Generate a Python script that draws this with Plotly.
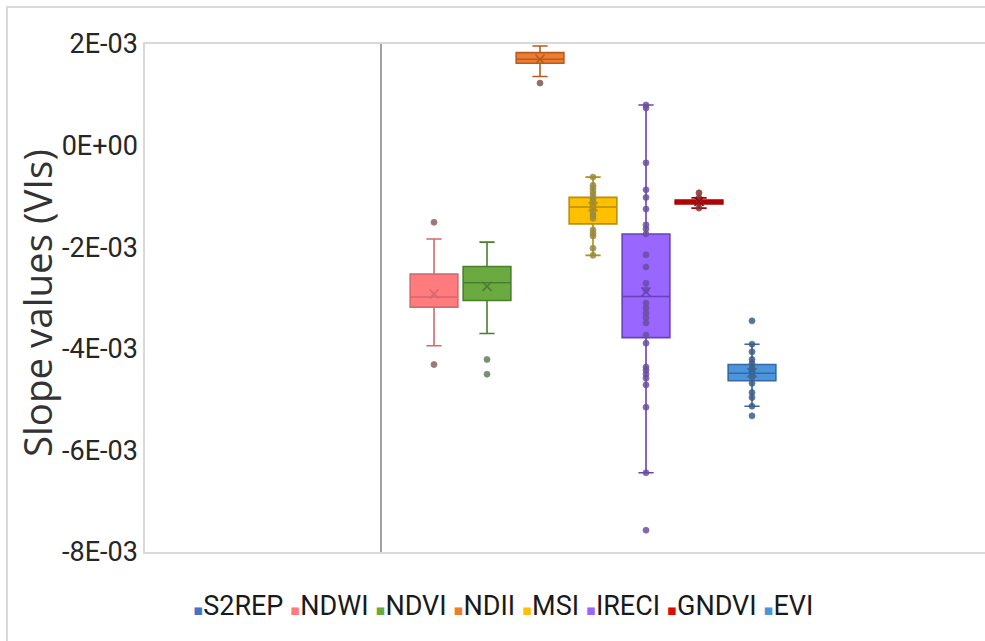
import plotly.graph_objects as go

# ---- data ----
names = ["S2REP", "NDWI", "NDVI", "NDII", "MSI", "IRECI", "GNDVI", "EVI"]

q1 = [0.006, -0.00318, -0.00305, 0.00162, -0.00154, -0.00378, -0.00115, -0.00463]
median = [0.012, -0.00298, -0.00270, 0.00170, -0.00121, -0.00297, -0.00111, -0.00448]
q3 = [0.020, -0.00253, -0.00238, 0.00183, -0.00102, -0.00174, -0.00107, -0.00431]
lowerfence = [-0.012, -0.00394, -0.00370, 0.00136, -0.00216, -0.00644, -0.00123, -0.00513]
upperfence = [0.030, -0.00184, -0.00190, 0.00196, -0.00062, 0.00080, -0.00103, -0.00391]
means = [0.013, -0.00292, -0.00277, 0.00170, -0.00120, -0.00288, -0.00110, -0.00447]

points_s2rep = []
points_ndwi = [-0.00151, -0.00431]
points_ndvi = [-0.00421, -0.00450]
points_ndii = [0.00123]
points_msi = [-0.00062, -0.00078, -0.00084, -0.00091, -0.00097, -0.00104, -0.00110,
              -0.00117, -0.00123, -0.00130, -0.00137, -0.00143, -0.00166, -0.00173,
              -0.00178, -0.00202, -0.00216]
points_ireci = [0.00080, 0.00074, -0.00034, -0.00087, -0.00102, -0.00125, -0.00156,
                -0.00164, -0.00174, -0.00215, -0.00239, -0.00271, -0.00284, -0.00310,
                -0.00320, -0.00330, -0.00339, -0.00349, -0.00373, -0.00389, -0.00436,
                -0.00442, -0.00450, -0.00458, -0.00471, -0.00515, -0.00644, -0.00757]
points_gndvi = [-0.00093, -0.00103, -0.00108, -0.00113, -0.00123]
points_evi = [-0.00345, -0.00391, -0.00406, -0.00421, -0.00429, -0.00438, -0.00445,
              -0.00455, -0.00468, -0.00486, -0.00496, -0.00513, -0.00532]
points = [points_s2rep, points_ndwi, points_ndvi, points_ndii, points_msi,
          points_ireci, points_gndvi, points_evi]

tick_vals = [0.002, 0.0, -0.002, -0.004, -0.006, -0.008]
tick_text = ["2E-03", "0E+00", "-2E-03", "-4E-03", "-6E-03", "-8E-03"]
y_title = "Slope values (VIs)"

# ---- styles ----
fill_colors = ["#4472C4", "#FF7B7D", "#6BAA40", "#ED7D31", "#FFC000", "#9966FF", "#DD0A0A", "#4D95DA"]
line_colors = ["#8C8C8C", "#D46A6C", "#4A7F2C", "#B55D20", "#B8900A", "#6A42B8", "#A50000", "#3669A3"]
point_colors = ["#555555", "#8A6262", "#6B7A55", "#7A5A48", "#9A8A40", "#6A4FA0", "#803030", "#3E5F85"]

fig = go.Figure()

for i, n in enumerate(names):
    fig.add_trace(go.Box(
        x=[n], q1=[q1[i]], median=[median[i]], q3=[q3[i]],
        lowerfence=[lowerfence[i]], upperfence=[upperfence[i]],
        boxpoints=False, width=0.9, whiskerwidth=0.32,
        fillcolor=fill_colors[i],
        line=dict(color=line_colors[i], width=1.6),
        showlegend=False, name=n,
    ))

for i, n in enumerate(names):
    if points[i]:
        fig.add_trace(go.Scatter(
            x=[n] * len(points[i]), y=points[i], mode="markers",
            marker=dict(symbol="circle", size=6, color=point_colors[i],
                        opacity=0.85, line=dict(color=point_colors[i], width=0.8)),
            showlegend=False, cliponaxis=True,
        ))
    if i > 0:
        fig.add_trace(go.Scatter(
            x=[n], y=[means[i]], mode="markers",
            marker=dict(symbol="x-thin", size=9, color=line_colors[i],
                        line=dict(color=line_colors[i], width=1.6)),
            showlegend=False,
        ))

# custom legend (single line of text with coloured squares)
legend_parts = []
for i, n in enumerate(names):
    legend_parts.append(
        '<span style="color:%s;font-family:DejaVu Sans;font-size:15px">▪</span>%s' % (fill_colors[i], n))
legend_text = " ".join(legend_parts)

fig.add_annotation(
    text=legend_text, xref="paper", yref="paper", x=0.426, y=-0.106,
    xanchor="center", yanchor="middle", showarrow=False,
    font=dict(family="Roboto, sans-serif", size=27, color="#1a1a1a"),
)

# y-axis title
fig.add_annotation(
    text=y_title, xref="paper", yref="paper", x=-0.1286, y=0.49,
    xanchor="center", yanchor="middle", showarrow=False, textangle=-90,
    font=dict(family="Open Sans, sans-serif", size=38.5, color="#333333"),
)

# outer chart border
fig.add_shape(type="rect", xref="paper", yref="paper",
              x0=-0.1643, x1=1.2, y0=-0.3, y1=1.0728,
              line=dict(color="#D9D9D9", width=2), fillcolor="rgba(0,0,0,0)", layer="below")

fig.update_layout(
    width=985, height=641,
    margin=dict(l=145, r=0, t=44, b=89),
    paper_bgcolor="white", plot_bgcolor="white",
    boxmode="overlay",
    showlegend=False,
    xaxis=dict(
        type="category", categoryorder="array", categoryarray=names,
        range=[-4.453, 11.396],
        showticklabels=False, ticks="", showgrid=False, zeroline=False,
        showline=True, mirror=True, linecolor="#D9D9D9", linewidth=1.5,
    ),
    yaxis=dict(
        range=[-0.008, 0.002], tickvals=tick_vals, ticktext=tick_text,
        showgrid=False, zeroline=False, ticks="",
        showline=True, linecolor="#D9D9D9", linewidth=1.5,
        tickfont=dict(family="Roboto, sans-serif", size=27, color="#262626"),
        ticklabelstandoff=0,
    ),
)

fig.write_html("out.html")
